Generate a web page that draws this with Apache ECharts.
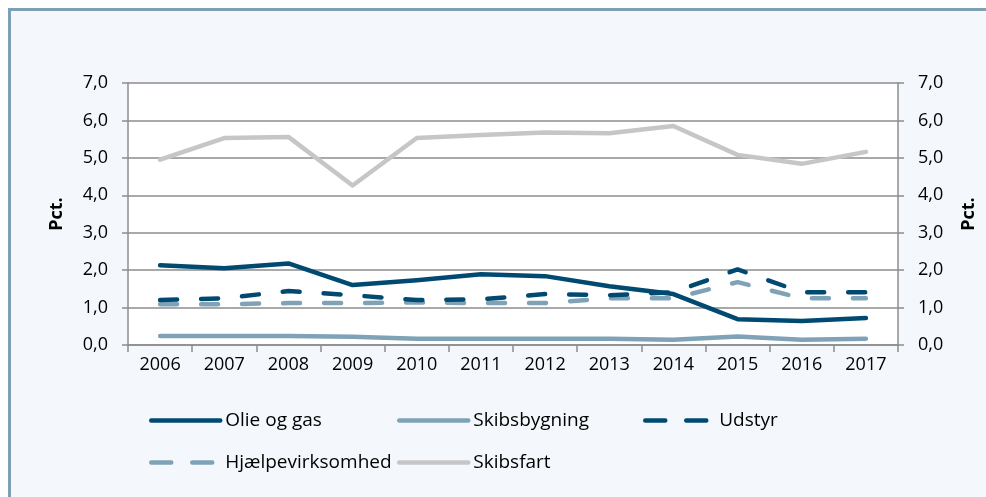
<!DOCTYPE html>
<html>
<head>
<meta charset="utf-8">
<script src="https://cdn.jsdelivr.net/npm/echarts@6/dist/echarts.min.js"></script>
<style>
  html, body { margin: 0; padding: 0; background: #ffffff; }
  #frame {
    position: absolute; left: 8px; top: 8px; right: 0; bottom: 0;
    background: #f4f8fc;
    border-top: 3px solid #7fa0b4;
    border-left: 3px solid #7fa0b4;
  }
  #chart { position: absolute; left: 0; top: 0; width: 986px; height: 497px; }
</style>
</head>
<body>
<div id="frame"></div>
<div id="chart"></div>
<script>
const years = ["2006", "2007", "2008", "2009", "2010", "2011", "2012", "2013", "2014", "2015", "2016", "2017"];
const olieOgGas = [2.13, 2.05, 2.18, 1.6, 1.73, 1.89, 1.84, 1.57, 1.36, 0.69, 0.64, 0.72];
const skibsbygning = [0.24, 0.24, 0.24, 0.22, 0.17, 0.17, 0.17, 0.17, 0.14, 0.23, 0.14, 0.17];
const udstyr = [1.2, 1.25, 1.44, 1.33, 1.2, 1.22, 1.36, 1.33, 1.41, 2.02, 1.41, 1.41];
const hjaelpevirksomhed = [1.09, 1.09, 1.12, 1.12, 1.14, 1.12, 1.12, 1.25, 1.25, 1.68, 1.25, 1.25];
const skibsfart = [4.95, 5.53, 5.56, 4.26, 5.53, 5.61, 5.68, 5.66, 5.85, 5.08, 4.84, 5.16];

const dark = "#004a72";
const light = "#7fa2b7";
const grey = "#c6c6c6";
const axisGrey = "#8c8c8c";
const font = "Open Sans";

function fmt(v) {
  return v.toFixed(1).replace(".", ",");
}

function yAxis(pos, grid) {
  return {
    type: "value",
    position: pos,
    min: 0,
    max: 7,
    interval: 1,
    name: "Pct.",
    nameLocation: "middle",
    nameRotate: 90,
    nameGap: 62,
    nameTextStyle: { fontFamily: font, fontSize: 18, fontWeight: "bold", color: "#000" },
    axisLine: { show: true, lineStyle: { color: axisGrey, width: 1.5 } },
    axisTick: { show: true, length: 6, lineStyle: { color: axisGrey, width: 1.5 } },
    axisLabel: { margin: 20, formatter: fmt, fontFamily: font, fontSize: 18, color: "#000" },
    splitLine: { show: grid, lineStyle: { color: axisGrey, width: 1.5 } },
  };
}

function line(name, data, color, dashed) {
  return {
    name: name,
    type: "line",
    data: data,
    symbol: "none",
    yAxisIndex: 0,
    lineStyle: {
      color: color,
      width: 4.5,
      type: dashed ? [17, 24] : "solid",
      cap: "round",
      join: "round",
    },
    itemStyle: { color: color },
  };
}

// one legend per entry so the columns line up like the original
function legend(name, left, top, dashed) {
  return {
    data: [name],
    left: left,
    top: top,
    itemWidth: 69,
    itemHeight: 12,
    itemStyle: { opacity: 0 },
    lineStyle: { width: 4.5, cap: "round", type: dashed ? [20, 21] : "solid" },
    textStyle: { fontFamily: font, fontSize: 19, color: "#000" },
  };
}

const chart = echarts.init(document.getElementById("chart"), null, { renderer: "canvas" });
chart.setOption({
  backgroundColor: "transparent",
  animation: false,
  grid: {
    left: 128,
    right: 84,
    top: 83,
    bottom: 152,
    show: true,
    backgroundColor: "#ffffff",
    borderWidth: 0,
  },
  legend: [
    legend("Olie og gas", 144, 406, false),
    legend("Skibsbygning", 392, 406, false),
    legend("Udstyr", 638, 406, true),
    legend("Hjælpevirksomhed", 144, 448, true),
    legend("Skibsfart", 392, 448, false),
  ],
  xAxis: {
    type: "category",
    data: years,
    boundaryGap: true,
    axisLine: { lineStyle: { color: axisGrey, width: 1.5 } },
    axisTick: { show: true, length: 7, lineStyle: { color: axisGrey, width: 1.5 } },
    axisLabel: { margin: 11, interval: 0, fontFamily: font, fontSize: 18, color: "#000" },
  },
  yAxis: [yAxis("left", true), yAxis("right", false)],
  series: [
    line("Skibsfart", skibsfart, grey, false),
    line("Skibsbygning", skibsbygning, light, false),
    line("Hjælpevirksomhed", hjaelpevirksomhed, light, true),
    line("Udstyr", udstyr, dark, true),
    line("Olie og gas", olieOgGas, dark, false),
  ],
});
</script>
</body>
</html>
